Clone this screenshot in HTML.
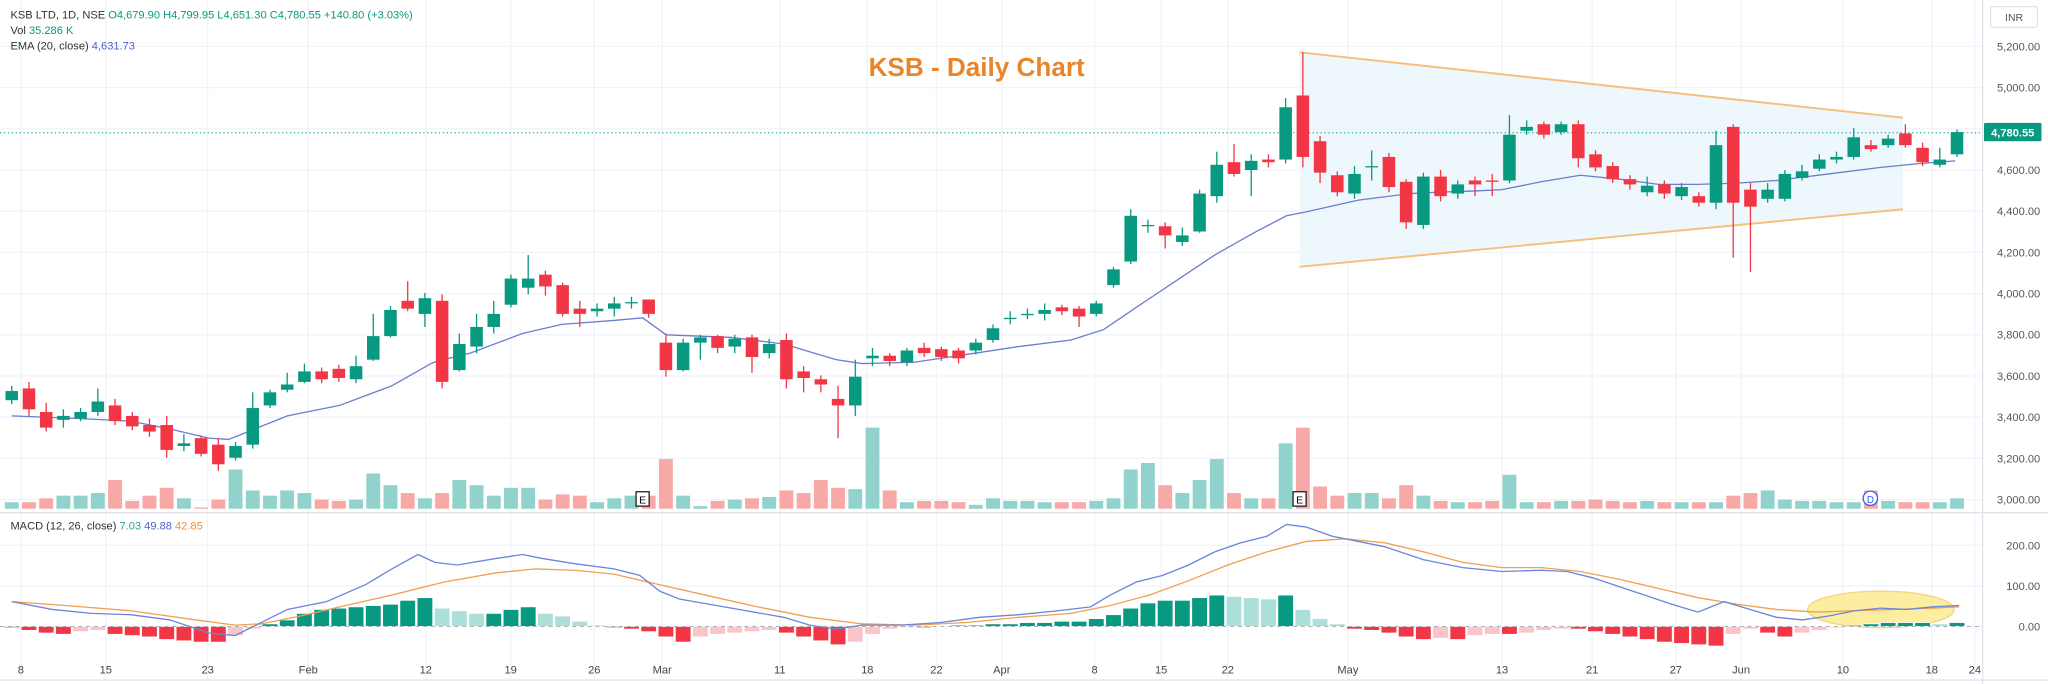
<!DOCTYPE html>
<html><head><meta charset="utf-8"><style>
html,body{margin:0;padding:0;background:#fff;}
svg{display:block;}
text{font-family:"Liberation Sans",sans-serif;}
</style></head><body>
<svg id="c" xmlns="http://www.w3.org/2000/svg" width="2048" height="684" viewBox="0 0 1568 523" preserveAspectRatio="none">
<rect x="0" y="0" width="1568" height="523" fill="#fff"/>
<g id="grid" stroke="#f0f3fa" stroke-width="1"></g>
<polygon points="995,40 1457,90 1457,160 995,204" fill="#eaf5fb" opacity="0.8"/>
<line x1="995" y1="40" x2="1457" y2="90" stroke="#f5c07a" stroke-width="1.5"/>
<line x1="995" y1="204" x2="1457" y2="160" stroke="#f5c07a" stroke-width="1.5"/>
<line x1="0" y1="101.5" x2="1518" y2="101.5" stroke="#089981" stroke-width="0.8" stroke-dasharray="1,2"/>
<g id="vol"></g>
<polyline id="ema" fill="none" stroke="#6b7dcc" stroke-width="1"/>
<g id="candles"></g>
<ellipse cx="1440" cy="466" rx="56" ry="14" fill="#fbe77a" opacity="0.7" stroke="#f0c24a"/>
<g id="hist"></g>
<polyline id="sig" fill="none" stroke="#f0a050" stroke-width="1"/>
<polyline id="macd" fill="none" stroke="#6b86d8" stroke-width="1"/>
<line x1="0" y1="392" x2="1568" y2="392" stroke="#e0e3eb"/>
<line x1="1518" y1="0" x2="1518" y2="523" stroke="#e0e3eb"/>
<line x1="0" y1="520" x2="1568" y2="520" stroke="#e0e3eb"/>
<line x1="0" y1="479" x2="1518" y2="479" stroke="#9598a1" stroke-width="0.6" stroke-dasharray="3,3"/>
<g id="ylab" font-size="8.5" fill="#555" text-anchor="end"></g>
<g id="xlab" font-size="8.5" fill="#444" text-anchor="middle"></g>
<text x="8" y="14" font-size="8.5" fill="#333">KSB LTD, 1D, NSE <tspan fill="#089981">O4,679.90  H4,799.95  L4,651.30  C4,780.55  +140.80 (+3.03%)</tspan></text>
<text x="8" y="26" font-size="8.5" fill="#333">Vol <tspan fill="#089981">35.286 K</tspan></text>
<text x="8" y="38" font-size="8.5" fill="#333">EMA (20, close) <tspan fill="#4a63c8">4,631.73</tspan></text>
<text x="8" y="405" font-size="8.5" fill="#333">MACD (12, 26, close) <tspan fill="#26a69a">7.03</tspan> <tspan fill="#4a63c8">49.88</tspan> <tspan fill="#f09030">42.85</tspan></text>
<text x="665" y="58" font-size="20" font-weight="bold" fill="#e8842a">KSB - Daily Chart</text>
<rect x="1524" y="5" width="36" height="16" rx="2" fill="#fff" stroke="#e0e3eb"/>
<text x="1542" y="16" font-size="8" fill="#555" text-anchor="middle">INR</text>
<rect x="1519" y="94" width="44" height="14" rx="1" fill="#089981"/>
<text x="1541" y="104.5" font-size="8.5" fill="#fff" text-anchor="middle" font-weight="bold">4,780.55</text>
<rect x="487" y="376" width="10" height="11" fill="#fff" stroke="#222"/><text x="492" y="385" font-size="8" text-anchor="middle">E</text>
<rect x="990" y="376" width="10" height="11" fill="#fff" stroke="#222"/><text x="995" y="385" font-size="8" text-anchor="middle">E</text>
<circle cx="1432" cy="381" r="5.5" fill="#fff" stroke="#2962ff"/><text x="1432" y="384.5" font-size="7.5" fill="#2962ff" text-anchor="middle">D</text>
</svg>
<script>
var NS="http://www.w3.org/2000/svg";
function el(p,t,a){var e=document.createElementNS(NS,t);for(var k in a)e.setAttribute(k,a[k]);document.getElementById(p).appendChild(e);return e;}
var G="#089981",R="#f23645";
var py=function(p){return 382-(p-3000)*0.1575;};
for(var p=3000;p<=5200;p+=200){var y=py(p);el("grid","line",{x1:0,y1:y,x2:1518,y2:y});
 var t=el("ylab","text",{x:1562,y:y+3});t.textContent=(p/1000|0)+","+String(p%1000).padStart(3,"0")+".00";}
[[417,"200.00"],[448,"100.00"],[479,"0.00"]].forEach(function(a){el("grid","line",{x1:0,y1:a[0],x2:1518,y2:a[0]});var t=el("ylab","text",{x:1562,y:a[0]+3});t.textContent=a[1];});
var xl=[[16,"8"],[81,"15"],[159,"23"],[236,"Feb"],[326,"12"],[391,"19"],[455,"26"],[507,"Mar"],[597,"11"],[664,"18"],[717,"22"],[767,"Apr"],[838,"8"],[889,"15"],[940,"22"],[1032,"May"],[1150,"13"],[1219,"21"],[1283,"27"],[1333,"Jun"],[1411,"10"],[1479,"18"],[1512,"24"]];
xl.forEach(function(a){el("grid","line",{x1:a[0],y1:0,x2:a[0],y2:520});var t=el("xlab","text",{x:a[0],y:515});t.textContent=a[1];});
var C=[
[1,299,306,295,309],[0,297,313,292,318],[0,315,327,308,330],[1,318,321,313,327],[1,315,320,312,322],[1,307,315,297,318],[0,310,322,305,325],[0,318,326,315,329],[0,325,330,320,334],[0,325,344,318,350],
[1,339,341,332,345],[0,335,347,333,349],[0,340,355,335,360],[1,341,350,338,352],[1,312,340,300,343],[1,300,310,298,312],[1,294,298,285,300],[1,284,292,278,293],[0,284,290,281,293],[0,282,289,279,292],
[1,280,290,272,293],[1,257,275,240,276],[1,237,257,234,258],[0,230,236,215,238],[1,228,240,224,250],[0,230,292,225,297],[1,263,283,255,284],[1,250,265,240,270],[1,240,250,230,255],[1,213,233,210,235],
[1,213,220,195,225],[0,210,219,207,226],[0,218,240,216,242],[0,236,240,230,250],[1,236,238,232,242],[1,232,236,227,242],[1,231,232,227,236],[0,229,240,229,243],[0,262,283,255,288],[1,262,283,259,284],
[1,258,262,256,275],[0,257,266,256,270],[1,259,265,256,270],[0,258,273,256,285],[1,263,270,259,274],[0,260,290,255,297],[0,284,289,280,300],[0,290,294,287,300],[0,305,310,295,335],[1,288,310,275,318],
[1,272,274,266,280],[0,272,276,270,280],[1,268,277,266,280],[0,266,270,262,273],[0,267,273,265,276],[0,268,274,266,278],[1,262,268,259,271],[1,251,260,248,262],[1,243,244,238,248],[1,240,241,236,244],
[1,237,240,232,245],[0,235,238,233,241],[0,236,242,234,250],[1,232,240,230,242],[1,206,218,204,220],[1,165,200,160,202],[1,172,173,168,178],[0,173,180,170,190],[1,180,185,174,188],[1,148,177,145,178],
[1,126,150,116,155],[0,124,133,110,135],[1,123,130,118,150],[0,122,124,118,128],[1,82,122,75,125],[0,73,120,40,128],[0,108,132,104,140],[0,134,147,131,150],[1,133,148,127,152],[1,127,128,115,138],
[0,120,143,117,147],[0,139,170,137,175],[1,135,172,132,175],[0,135,150,130,154],[1,141,148,138,152],[0,138,141,135,150],[0,138,139,133,150],[1,103,138,88,140],[1,97,100,92,103],[0,95,103,93,106],
[1,95,101,93,103],[0,95,121,92,128],[0,118,128,115,131],[0,127,137,124,140],[0,137,141,134,145],[1,142,147,135,150],[0,141,148,138,152],[1,143,150,140,153],[0,150,155,147,158],[1,111,155,100,160],
[0,97,155,95,197],[0,145,158,140,208],[1,145,152,140,155],[1,133,152,130,154],[1,131,136,126,138],[1,122,129,118,131],[1,120,122,116,125],[1,105,120,98,122],[0,111,114,107,116],[1,106,111,103,113],
[0,102,111,95,113],[0,113,124,109,127],[1,122,126,113,128],[1,101,118,99,120]];
var V=[5,5,8,10,10,12,22,6,10,16,8,1,7,30,14,10,14,12,7,6,7,27,18,12,8,12,22,18,10,16,16,7,11,10,5,8,10,10,38,10,2,6,7,8,9,14,12,22,16,15,62,14,5,6,6,5,3,8,6,6,5,5,5,6,8,30,35,18,12,22,38,12,8,8,50,62,17,10,12,12,8,18,10,6,5,5,6,26,5,5,6,6,7,6,5,6,5,5,5,5,10,12,14,7,6,6,5,5,14,6,5,5,5,8];
var H=[-1,-3,-5,-6,-4,-3,-6,-7,-8,-10,-11,-12,-12,-7,-2,
2,5,10,13,14,15,16,17,20,22,14,12,10,10,13,15,10,8,4,1,
-1,-2,-4,-8,-12,-8,-6,-5,-4,-3,-5,-8,-11,-14,-12,-6,-2,-1,-1,0,
1,1,2,2,3,3,4,4,6,9,14,18,20,20,22,24,23,22,21,24,13,6,2,
-2,-3,-5,-8,-10,-9,-10,-7,-6,-6,-5,-3,-2,-2,-4,-6,-8,-10,-12,-13,-14,-15,-6,-2,-5,-8,-5,-3,-1,1,2,3,3,3,2,3];
var X=function(i){return 9+i*13.18;};
C.forEach(function(c,i){var x=X(i),col=c[0]?G:R;
 var v=V[i]||5;el("vol","rect",{x:x-5.3,y:389-v,width:10.6,height:v,fill:c[0]?"#92d2cc":"#f7a9a7"});
 el("candles","line",{x1:x,y1:c[3],x2:x,y2:c[4],stroke:col,"stroke-width":1});
 el("candles","rect",{x:x-4.8,y:c[1],width:9.6,height:Math.max(1,c[2]-c[1]),fill:col});
});
function pts(a){return a.map(function(q){return q.join(",");}).join(" ");}
var ema=[[9,318],[60,320],[100,322],[130,328],[160,335],[175,336],[190,330],[220,318],[260,310],[300,295],[330,278],[335,276],[360,270],[400,255],[430,248],[470,245],[492,243],[510,256],[560,258],[600,263],[640,275],[660,278],[700,277],[740,271],[780,265],[820,260],[845,252],[870,235],[900,215],[930,195],[960,178],[985,165],[1000,162],[1040,153],[1080,148],[1100,147],[1130,146],[1150,145],[1180,139],[1210,134],[1240,137],[1270,141],[1300,141],[1330,140],[1360,138],[1400,133],[1440,128],[1470,125],[1497,123]];
document.getElementById("ema").setAttribute("points",pts(ema));
var B=[[9,460],[40,466],[70,469],[100,470],[130,474],[160,484],[180,486],[200,476],[220,466],[250,460],[280,447],[300,435],[320,424],[333,430],[350,432],[380,427],[400,424],[415,427],[440,431],[470,435],[490,440],[505,452],[520,458],[560,465],[600,472],[620,478],[640,481],[660,478],[690,478],[720,476],[750,472],[780,470],[810,467],[835,464],[850,455],[870,445],[890,440],[910,432],[930,422],[950,415],[970,410],[985,401],[1000,403],[1020,410],[1040,414],[1060,418],[1090,428],[1120,434],[1150,437],[1180,436],[1200,437],[1220,442],[1250,452],[1280,462],[1300,468],[1320,460],[1340,466],[1360,472],[1380,474],[1400,471],[1420,467],[1440,465],[1460,466],[1480,464],[1500,463]];
var O=[[9,460],[50,463],[100,467],[150,474],[180,478],[200,477],[230,471],[260,464],[300,455],[340,445],[380,438],[410,435],[440,436],[470,439],[500,446],[540,455],[580,464],[620,472],[660,477],[700,478],[740,476],[780,472],[820,469],[850,463],[880,455],[910,444],[940,432],[970,422],[1000,414],[1030,412],[1060,415],[1090,422],[1120,430],[1150,434],[1180,434],[1210,437],[1240,443],[1270,450],[1300,457],[1330,462],[1360,466],[1390,468],[1420,467],[1450,466],[1480,465],[1500,464]];
document.getElementById("macd").setAttribute("points",pts(B));
document.getElementById("sig").setAttribute("points",pts(O));
var prev=0;
for(var i=0;i<C.length;i++){var x=X(i);var h=H[i]||0;var col;
 if(h>=0)col=(h>=prev)?"#089981":"#acdfd7";else col=(h<=prev)?"#f23645":"#f9c5c8";
 var hh=Math.abs(h);if(hh<0.6)hh=0.6;
 el("hist","rect",{x:x-6,y:h>=0?479-hh:479,width:12,height:hh,fill:col,stroke:"#fff","stroke-width":0.6});
 prev=h;}
</script>
</body></html>
